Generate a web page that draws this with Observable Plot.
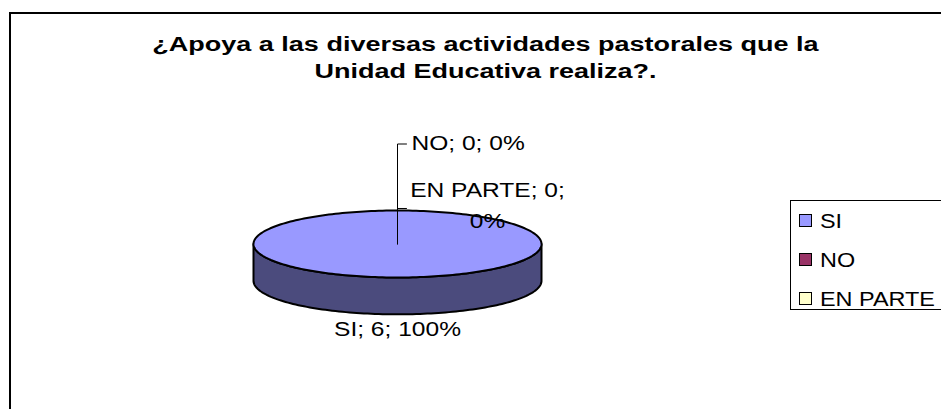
<!DOCTYPE html>
<html>
<head>
<meta charset="utf-8">
<script src="https://cdn.jsdelivr.net/npm/d3@7"></script>
<script src="https://cdn.jsdelivr.net/npm/@observablehq/plot@0.6"></script>
<style>
html,body{margin:0;padding:0;width:941px;height:409px;overflow:hidden;background:#fff;}
#root{position:relative;width:941px;height:409px;overflow:hidden;font-family:"Liberation Sans",Arial,sans-serif;color:#000;}
#chart{position:absolute;left:0;top:0;}
#frame{position:absolute;left:9px;top:12px;width:1000px;height:500px;border-left:2px solid #000;border-top:2px solid #000;pointer-events:none;}
#title{position:absolute;left:0;top:31px;width:971px;font-weight:bold;font-size:20px;line-height:27px;text-align:center;white-space:nowrap;}
#title div{transform:scaleX(1.35);transform-origin:485.5px 50%;}
#legend{position:absolute;left:790px;top:200px;width:200px;height:108px;border:1px solid #000;background:#fff;}
.sw{position:absolute;left:8px;width:11px;height:11px;border:1.5px solid #000;}
.lt{position:absolute;left:29px;font-size:20px;line-height:20px;white-space:nowrap;transform:scaleX(1.17);transform-origin:0 50%;}
</style>
</head>
<body>
<div id="root">
  <div id="chart"></div>
  <div id="title"></div>
  <div id="legend"></div>
  <div id="frame"></div>
</div>
<script>
// ---- data ----
const categories = ["SI", "NO", "EN PARTE"];
const values = [6, 0, 0];
const titleLines = ["¿Apoya a las diversas actividades pastorales que la", "Unidad Educativa realiza?."];
const palette = ["#9999ff", "#993366", "#ffffcc"];

// ---- layout constants (not data) ----
const DEPTH = 1.1;           // pie thickness in y units
const N = 240;               // samples per full turn
const labelLayout = {
  "SI":       {mode: "below", dy: 16},
  "NO":       {rise: 2.985, tx: 0.097, ty: 2.985, anchor: "start", wrap: false},
  "EN PARTE": {rise: 1.06,  tx: 0.625, ty: 1.104, anchor: "middle", wrap: true}
};
const TICK = 0.0625;

const total = d3.sum(values);
const rows = categories.map((c, i) => ({cat: c, value: values[i], color: palette[i]}));
const arcs = d3.pie().sort(null).value(d => d.value)(rows);

function arcPts(a0, a1, yOff) {
  const n = Math.max(2, Math.ceil(Math.abs(a1 - a0) / (2 * Math.PI) * N));
  return d3.range(n + 1).map(k => {
    const a = a0 + (a1 - a0) * k / n;
    return {x: Math.sin(a), y: Math.cos(a) + yOff};
  });
}

const marks = [];
// side walls (front half only)
arcs.forEach(s => {
  if (s.data.value <= 0) return;
  const b0 = Math.max(s.startAngle, Math.PI / 2), b1 = Math.min(s.endAngle, 3 * Math.PI / 2);
  if (b1 <= b0) return;
  const top = arcPts(b0, b1, 0), bot = arcPts(b0, b1, -DEPTH).reverse();
  const pts = top.concat(bot, [top[0]]);
  marks.push(Plot.line(pts, {x: "x", y: "y", fill: d3.rgb(s.data.color).darker(2).formatHex(), stroke: "#000", strokeWidth: 2, strokeLinejoin: "round"}));
});
// top faces
const topData = [];
arcs.forEach(s => {
  if (s.data.value <= 0) return;
  const full = s.endAngle - s.startAngle >= 2 * Math.PI - 1e-9;
  let pts = arcPts(s.startAngle, s.endAngle, 0);
  if (!full) pts = [{x: 0, y: 0}, ...pts, {x: 0, y: 0}];
  pts.forEach(p => topData.push({...p, cat: s.data.cat}));
});
marks.push(Plot.line(topData, {x: "x", y: "y", z: "cat", fill: "cat", stroke: "#000", strokeWidth: 2, strokeLinejoin: "round"}));

// leader lines and labels
const leaderData = [];
const labelData = [];
arcs.forEach(s => {
  const L = labelLayout[s.data.cat];
  const pct = Math.round(s.data.value / total * 100);
  let text = `${s.data.cat}; ${s.data.value}; ${pct}%`;
  if (L.mode === "below") {
    const mid = (s.startAngle + s.endAngle) / 2;
    labelData.push({x: Math.sin(mid), y: Math.cos(mid) - DEPTH - L.dy / 33.5, text, anchor: "middle"});
  } else {
    leaderData.push({x: 0, y: 0, cat: s.data.cat}, {x: 0, y: L.rise, cat: s.data.cat}, {x: TICK, y: L.rise, cat: s.data.cat});
    if (L.wrap) text = text.replace(/; (\d+%)$/, ";\n$1");
    labelData.push({x: L.tx, y: L.ty, text, anchor: L.anchor});
  }
});
marks.push(Plot.line(leaderData, {x: "x", y: "y", z: "cat", stroke: "#000", strokeWidth: 1}));
for (const anchor of ["start", "middle"]) {
  marks.push(Plot.text(labelData.filter(d => d.anchor === anchor), {
    x: "x", y: "y", text: "text", textAnchor: anchor, dy: -4,
    fontSize: 21, fontFamily: "Liberation Sans, Arial, sans-serif", fill: "#000", lineHeight: 1.48
  }));
}

const svg = Plot.plot({
  width: 941, height: 409,
  marginTop: 0, marginRight: 0, marginBottom: 0, marginLeft: 0,
  x: {domain: [-1, 1], range: [253, 541], axis: null},
  y: {domain: [-1, 1], range: [277, 210], axis: null},
  color: {type: "ordinal", domain: categories, range: palette},
  style: {background: "transparent", overflow: "visible"},
  marks
});
svg.querySelectorAll("text").forEach(t => {
  const tr = t.getAttribute("transform") || "";
  if (/translate/.test(tr)) t.setAttribute("transform", tr + " scale(1.17,1)");
  else {
    const x = +t.getAttribute("x") || 0, y = +t.getAttribute("y") || 0;
    t.setAttribute("transform", `translate(${x},${y}) scale(1.17,1) translate(${-x},${-y})`);
  }
});
document.getElementById("chart").appendChild(svg);

// title
const titleEl = document.getElementById("title");
titleLines.forEach(l => { const d = document.createElement("div"); d.textContent = l; titleEl.appendChild(d); });

// legend
const legendEl = document.getElementById("legend");
const rowCenters = [19.5, 59, 98];
categories.forEach((c, i) => {
  const sw = document.createElement("div");
  sw.className = "sw"; sw.style.background = palette[i]; sw.style.top = (rowCenters[i] - 7) + "px";
  const lt = document.createElement("div");
  lt.className = "lt"; lt.textContent = c; lt.style.top = (rowCenters[i] - 10) + "px";
  legendEl.appendChild(sw); legendEl.appendChild(lt);
});
</script>
</body>
</html>
